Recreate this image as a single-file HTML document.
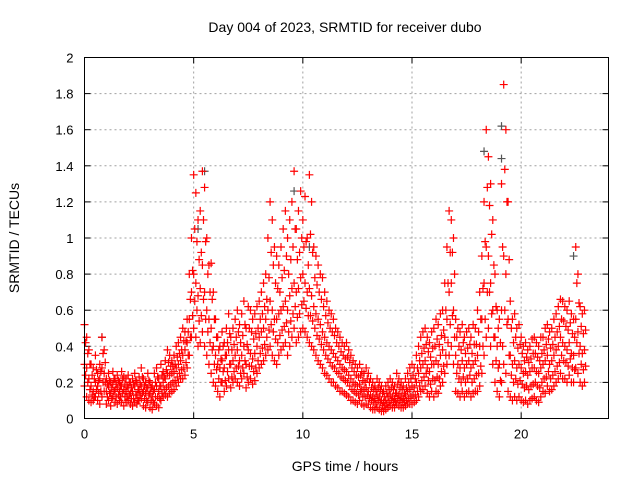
<!DOCTYPE html>
<html><head><meta charset="utf-8"><style>
body{margin:0;background:#fff}
svg{display:block;font-family:"Liberation Sans",sans-serif}
</style></head><body>
<svg id="chart" width="640" height="480" xmlns="http://www.w3.org/2000/svg">
<text x="345" y="32" font-size="14" text-anchor="middle">Day 004 of 2023, SRMTID for receiver dubo</text>
<text x="345" y="471" font-size="14" text-anchor="middle">GPS time / hours</text>
<text transform="translate(19,238) rotate(-90)" font-size="14" text-anchor="middle">SRMTID / TECUs</text>
<g id="grid"></g>
<g id="ticks"></g>
<g id="marks"></g>
<rect x="84.5" y="57.5" width="524" height="361" fill="none" stroke="#000"/>
</svg>
<script>
const xTicks=[0,5,10,15,20];
const yTicks=[0,0.2,0.4,0.6,0.8,1,1.2,1.4,1.6,1.8,2];
const yTickLabels=["0","0.2","0.4","0.6","0.8","1","1.2","1.4","1.6","1.8","2"];
const tStart=0, tStep=0.1;
const hiVals=[.52,.45,.38,.30,.28,.35,.25,.30,.45,.38,
.22,.25,.20,.26,.22,.24,.20,.26,.23,.22,
.24,.20,.22,.25,.20,.23,.28,.22,.20,.25,
.20,.18,.25,.28,.22,.30,.26,.32,.38,.35,
.32,.35,.40,.42,.45,.50,.48,.55,.80,1.0,
1.35,1.25,1.10,1.15,1.37,1.28,1.0,.85,.86,.70,
.55,.45,.40,.48,.42,.50,.58,.45,.50,.55,
.60,.52,.58,.65,.50,.62,.60,.55,.58,.62,
.65,.70,.75,.80,1.0,1.2,1.1,.95,.90,.85,
.95,1.05,1.15,1.0,1.1,1.2,1.37,1.05,1.15,1.26,
1.1,1.23,1.0,1.35,1.2,.95,.90,.85,.80,.78,
.70,.65,.60,.58,.55,.50,.48,.45,.42,.40,
.42,.38,.35,.32,.30,.28,.30,.26,.25,.28,
.25,.22,.20,.18,.22,.20,.18,.15,.18,.20,
.22,.20,.18,.25,.22,.20,.18,.22,.25,.28,
.30,.28,.35,.40,.45,.48,.50,.45,.42,.48,
.50,.55,.52,.58,.60,.75,.95,1.15,1.10,1.0,
.55,.50,.48,.52,.45,.48,.50,.45,.52,.50,
.60,.70,.90,1.2,1.6,1.45,1.3,1.1,.80,.60,
.55,1.3,1.85,1.6,1.2,.65,.55,.58,.50,.52,
.45,.40,.42,.38,.40,.44,.45,.42,.40,.45,
.45,.50,.52,.48,.50,.55,.58,.62,.66,.65,
.62,.60,.65,.58,.55,.95,.80,.62,.58,.60];
const q3Vals=[.42,.36,.30,.24,.22,.27,.21,.26,.36,.31,
.19,.21,.17,.22,.19,.21,.18,.22,.19,.18,
.20,.17,.19,.21,.16,.19,.23,.18,.17,.21,
.17,.15,.20,.23,.18,.24,.23,.27,.31,.29,
.29,.30,.34,.36,.38,.43,.43,.48,.66,.82,
1.05,.98,.88,.92,1.10,.98,.80,.70,.66,.55,
.45,.38,.33,.40,.35,.42,.47,.38,.41,.45,
.48,.42,.46,.52,.41,.50,.48,.44,.47,.50,
.55,.58,.62,.66,.78,.92,.85,.75,.72,.70,
.78,.82,.90,.80,.88,.95,1.05,.88,.92,1.0,
.95,.98,.85,1.02,.92,.78,.74,.70,.66,.62,
.57,.53,.50,.48,.46,.42,.40,.37,.35,.33,
.34,.31,.28,.26,.24,.23,.24,.21,.20,.22,
.20,.17,.16,.15,.17,.16,.14,.12,.14,.16,
.17,.16,.14,.19,.17,.16,.14,.17,.20,.22,
.24,.22,.28,.32,.36,.39,.41,.37,.34,.39,
.40,.44,.41,.46,.49,.60,.75,.92,.92,.80,
.45,.40,.38,.42,.36,.39,.41,.36,.41,.41,
.48,.55,.72,.98,1.28,1.18,1.02,.85,.62,.50,
.42,.95,1.38,1.20,.88,.50,.42,.45,.39,.41,
.36,.32,.34,.31,.33,.36,.36,.34,.32,.36,
.38,.41,.44,.39,.41,.45,.48,.51,.55,.54,
.51,.49,.53,.47,.45,.75,.64,.51,.47,.49];
const midVals=[.30,.28,.22,.18,.15,.20,.18,.22,.28,.25,
.15,.18,.14,.19,.16,.17,.15,.18,.16,.15,
.17,.14,.15,.18,.13,.16,.18,.15,.14,.17,
.14,.12,.16,.18,.15,.18,.20,.22,.25,.24,
.25,.26,.28,.30,.32,.35,.38,.42,.55,.70,
.80,.75,.68,.72,.85,.70,.60,.55,.50,.40,
.35,.30,.28,.32,.28,.35,.38,.30,.32,.35,
.38,.32,.35,.40,.30,.38,.36,.33,.36,.40,
.45,.48,.50,.55,.60,.65,.60,.55,.55,.58,
.60,.62,.65,.60,.68,.72,.75,.70,.72,.78,
.80,.75,.70,.72,.68,.62,.58,.55,.52,.48,
.45,.42,.40,.38,.36,.34,.32,.30,.28,.27,
.26,.24,.22,.20,.19,.18,.19,.16,.16,.17,
.15,.13,.12,.11,.13,.12,.10,.09,.10,.12,
.13,.12,.11,.14,.13,.12,.11,.13,.15,.16,
.18,.17,.20,.25,.28,.30,.32,.28,.26,.30,
.30,.32,.30,.35,.38,.45,.55,.70,.75,.60,
.35,.30,.28,.32,.28,.30,.32,.28,.30,.32,
.35,.40,.55,.75,.95,.90,.75,.60,.45,.40,
.30,.60,.90,.80,.55,.35,.30,.32,.28,.30,
.28,.25,.26,.24,.26,.28,.28,.26,.25,.28,
.30,.32,.35,.30,.32,.35,.38,.40,.45,.42,
.40,.38,.42,.36,.35,.55,.48,.40,.36,.38];
const q1Vals=[.24,.20,.16,.13,.12,.16,.14,.15,.20,.20,
.12,.14,.11,.15,.12,.13,.12,.14,.12,.12,
.13,.11,.11,.13,.10,.13,.14,.11,.10,.13,
.10,.09,.12,.12,.11,.14,.16,.17,.18,.19,
.20,.21,.23,.25,.27,.28,.31,.35,.45,.57,
.65,.60,.54,.57,.66,.55,.48,.42,.38,.30,
.27,.22,.20,.26,.21,.26,.30,.23,.26,.28,
.29,.25,.28,.32,.23,.29,.29,.26,.28,.32,
.36,.39,.41,.45,.49,.52,.48,.44,.42,.46,
.49,.51,.53,.48,.54,.58,.62,.56,.58,.63,
.65,.61,.57,.57,.54,.50,.46,.44,.41,.38,
.35,.33,.31,.29,.28,.26,.25,.23,.22,.21,
.20,.18,.16,.15,.14,.13,.15,.12,.12,.13,
.11,.10,.09,.08,.10,.09,.07,.07,.08,.09,
.10,.09,.09,.11,.10,.09,.09,.10,.11,.12,
.13,.13,.15,.18,.21,.23,.25,.21,.19,.22,
.21,.23,.22,.26,.29,.35,.42,.52,.57,.45,
.25,.22,.20,.23,.20,.22,.24,.20,.22,.24,
.25,.29,.40,.55,.70,.70,.58,.45,.32,.28,
.21,.40,.60,.52,.35,.24,.20,.22,.19,.21,
.19,.17,.18,.16,.18,.19,.20,.18,.17,.20,
.22,.23,.26,.22,.24,.26,.29,.31,.35,.32,
.31,.29,.33,.28,.27,.42,.36,.30,.27,.29];
const loVals=[.18,.12,.10,.09,.10,.12,.10,.08,.12,.15,
.08,.10,.07,.12,.09,.08,.10,.09,.07,.09,
.10,.08,.07,.09,.08,.10,.11,.07,.06,.09,
.06,.05,.08,.07,.06,.10,.12,.13,.12,.14,
.15,.16,.18,.20,.22,.22,.24,.28,.35,.45,
.50,.45,.40,.42,.48,.40,.35,.30,.25,.20,
.18,.15,.12,.20,.15,.18,.22,.17,.20,.22,
.20,.18,.22,.25,.17,.20,.22,.19,.21,.25,
.28,.30,.32,.35,.38,.40,.35,.32,.30,.35,
.38,.40,.42,.35,.40,.45,.50,.42,.45,.48,
.50,.48,.45,.42,.40,.38,.35,.32,.30,.28,
.25,.24,.22,.20,.20,.18,.17,.15,.15,.14,
.13,.12,.10,.10,.09,.08,.10,.08,.07,.08,
.08,.06,.05,.05,.06,.05,.04,.04,.05,.06,
.07,.06,.06,.08,.07,.06,.06,.07,.08,.08,
.08,.09,.10,.12,.15,.16,.18,.14,.12,.15,
.12,.15,.14,.18,.20,.25,.30,.35,.40,.30,
.15,.14,.12,.15,.12,.14,.15,.12,.14,.15,
.15,.18,.25,.35,.45,.50,.40,.30,.20,.15,
.12,.20,.30,.25,.15,.12,.10,.12,.10,.12,
.10,.09,.10,.08,.10,.11,.12,.10,.09,.12,
.15,.14,.18,.15,.16,.18,.20,.22,.25,.22,
.22,.20,.24,.20,.20,.28,.25,.20,.18,.20];
const grayT=[0.8,5.5,9.6,18.3,19.1,19.1,22.4,10.3,5.2];
const grayV=[.45,1.37,1.26,1.48,1.62,1.44,.90,.95,1.05];

const X0=84.5,X1=608.5,Y0=418.5,Y1=57.5,XMAX=24,YMAX=2;
const xs=v=>X0+(X1-X0)*v/XMAX;
const ys=v=>Y0-(Y0-Y1)*v/YMAX;
const NS="http://www.w3.org/2000/svg";
function mk(tag,attrs,parent){const e=document.createElementNS(NS,tag);for(const k in attrs)e.setAttribute(k,attrs[k]);parent.appendChild(e);return e;}
const grid=document.getElementById('grid'),ticks=document.getElementById('ticks'),marks=document.getElementById('marks');
xTicks.forEach((t,i)=>{
  const x=xs(t);
  if(t>0){const g=mk('line',{x1:x,x2:x,y1:Y0,y2:Y1,stroke:'#a0a0a0','stroke-dasharray':'2,3'},grid);
  
  }
  mk('line',{x1:x,x2:x,y1:Y0,y2:Y0-6,stroke:'#000'},ticks);
  mk('line',{x1:x,x2:x,y1:Y1,y2:Y1+6,stroke:'#000'},ticks);
  const l=mk('text',{x:x,y:Y0+20,'font-size':13,'text-anchor':'middle'},ticks);
  l.textContent=String(t);
  
  
});
yTicks.forEach((t,i)=>{
  const y=ys(t);
  if(t>0&&t<YMAX){const g=mk('line',{x1:X0,x2:X1,y1:y,y2:y,stroke:'#a0a0a0','stroke-dasharray':'2,3'},grid);
  
  }
  mk('line',{x1:X0,x2:X0+6,y1:y,y2:y,stroke:'#000'},ticks);
  mk('line',{x1:X1,x2:X1-6,y1:y,y2:y,stroke:'#000'},ticks);
  const l=mk('text',{x:X0-11,y:y+5,'font-size':13,'text-anchor':'end'},ticks);
  l.textContent=yTickLabels[i];
  
  
});
function plus(t,v,col){
  const x=xs(t),y=ys(v);
  const p=mk('path',{d:`M${x-4},${y}H${x+4}M${x},${y-4}V${y+4}`,stroke:col,'stroke-width':1.2,fill:'none'},marks);
  
  
}
grayT.forEach((t,i)=>plus(t,grayV[i],'#555'));
[loVals,q1Vals,midVals,q3Vals,hiVals].forEach((arr,k)=>arr.forEach((v,i)=>plus(tStart+i*tStep+(k%2)*0.05,v,'#ff0000')));
</script>
</body></html>
